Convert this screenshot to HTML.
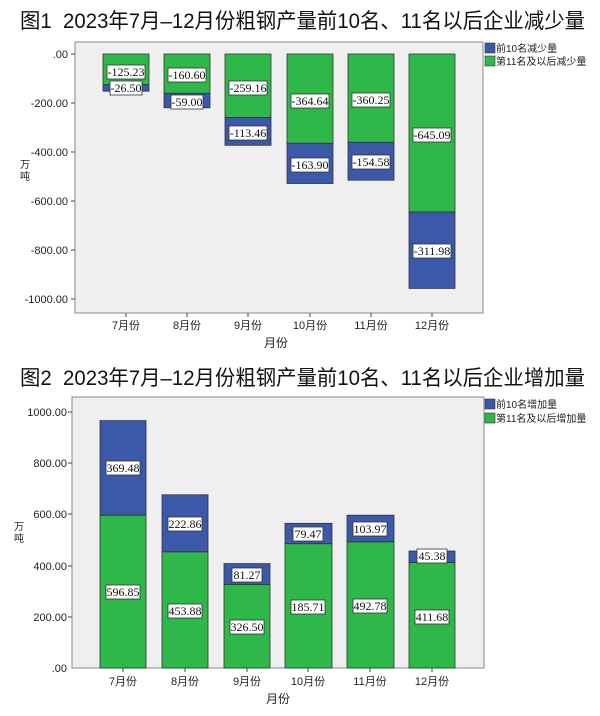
<!DOCTYPE html>
<html><head><meta charset="utf-8"><style>
body{margin:0;background:#fff}
.t{font-size:11px;fill:#222}
</style></head><body>
<svg width="600" height="711" viewBox="0 0 600 711" xmlns="http://www.w3.org/2000/svg" font-family="Liberation Sans, Noto Sans CJK SC, sans-serif">
<text x="20" y="28" font-size="21" textLength="565" lengthAdjust="spacingAndGlyphs" fill="#111">图1&#160;&#160;2023年7月–12月份粗钢产量前10名、11名以后企业减少量</text>
<text x="20" y="385" font-size="21" textLength="565" lengthAdjust="spacingAndGlyphs" fill="#111">图2&#160;&#160;2023年7月–12月份粗钢产量前10名、11名以后企业增加量</text>

<!-- Chart 1 -->
<rect x="75" y="42" width="408" height="271" fill="#efefef" stroke="#888"/>
<g class="t" text-anchor="end">
<text x="68" y="58">.00</text><text x="68" y="107">-200.00</text><text x="68" y="156">-400.00</text>
<text x="68" y="205">-600.00</text><text x="68" y="254">-800.00</text><text x="68" y="303">-1000.00</text>
</g>
<g stroke="#444"><line x1="71" y1="54" x2="75" y2="54"/><line x1="71" y1="103" x2="75" y2="103"/><line x1="71" y1="152" x2="75" y2="152"/><line x1="71" y1="201" x2="75" y2="201"/><line x1="71" y1="250" x2="75" y2="250"/><line x1="71" y1="299" x2="75" y2="299"/></g>
<text x="20" y="168" font-size="10" fill="#222">万</text><text x="20" y="180" font-size="10" fill="#222">吨</text>
<g stroke="#333" stroke-width="0.8">
<rect x="103" y="54" width="46" height="30.7" fill="#2fb84a"/><rect x="103" y="84.7" width="46" height="6.5" fill="#3c58a8"/>
<rect x="164" y="54" width="46" height="39.3" fill="#2fb84a"/><rect x="164" y="93.3" width="46" height="14.5" fill="#3c58a8"/>
<rect x="225" y="54" width="46" height="63.5" fill="#2fb84a"/><rect x="225" y="117.5" width="46" height="27.8" fill="#3c58a8"/>
<rect x="287" y="54" width="46" height="89.3" fill="#2fb84a"/><rect x="287" y="143.3" width="46" height="40.2" fill="#3c58a8"/>
<rect x="348" y="54" width="46" height="88.3" fill="#2fb84a"/><rect x="348" y="142.3" width="46" height="37.9" fill="#3c58a8"/>
<rect x="409" y="54" width="46" height="158" fill="#2fb84a"/><rect x="409" y="212" width="46" height="76.4" fill="#3c58a8"/>
</g>
<g fill="#fff" stroke="#333" stroke-width="0.8">
<rect x="107" y="65" width="38" height="14"/><rect x="110" y="81" width="32" height="14"/>
<rect x="168" y="68" width="38" height="14"/><rect x="171" y="95" width="32" height="14"/>
<rect x="229" y="81" width="38" height="14"/><rect x="229" y="126" width="38" height="14"/>
<rect x="291" y="94" width="38" height="14"/><rect x="291" y="158" width="38" height="14"/>
<rect x="352" y="93" width="38" height="14"/><rect x="352" y="155" width="38" height="14"/>
<rect x="413" y="128" width="38" height="14"/><rect x="413" y="244" width="38" height="14"/>
</g>
<g font-family="Liberation Serif, serif" font-size="12" fill="#111" text-anchor="middle">
<text x="126" y="76">-125.23</text><text x="126" y="92">-26.50</text>
<text x="187" y="79">-160.60</text><text x="187" y="106">-59.00</text>
<text x="248" y="92">-259.16</text><text x="248" y="137">-113.46</text>
<text x="310" y="105">-364.64</text><text x="310" y="169">-163.90</text>
<text x="371" y="104">-360.25</text><text x="371" y="166">-154.58</text>
<text x="432" y="139">-645.09</text><text x="432" y="255">-311.98</text>
</g>
<g stroke="#444"><line x1="126" y1="313" x2="126" y2="317"/><line x1="187" y1="313" x2="187" y2="317"/><line x1="248" y1="313" x2="248" y2="317"/><line x1="310" y1="313" x2="310" y2="317"/><line x1="371" y1="313" x2="371" y2="317"/><line x1="432" y1="313" x2="432" y2="317"/></g>
<g class="t" text-anchor="middle">
<text x="126" y="329">7月份</text><text x="187" y="329">8月份</text><text x="248" y="329">9月份</text>
<text x="310" y="329">10月份</text><text x="371" y="329">11月份</text><text x="432" y="329">12月份</text>
</g>
<text x="276" y="347" font-size="12" text-anchor="middle" fill="#222">月份</text>
<rect x="485" y="43" width="10" height="10" fill="#3c58a8" stroke="#333" stroke-width="0.6"/>
<rect x="485" y="56" width="10" height="10" fill="#2fb84a" stroke="#333" stroke-width="0.6"/>
<text x="496" y="52" font-size="10" fill="#222">前10名减少量</text>
<text x="496" y="65" font-size="10" fill="#222">第11名及以后减少量</text>

<!-- Chart 2 -->
<rect x="72" y="397" width="412" height="271" fill="#efefef" stroke="#888"/>
<g class="t" text-anchor="end">
<text x="67" y="416">1000.00</text><text x="67" y="467">800.00</text><text x="67" y="518">600.00</text>
<text x="67" y="570">400.00</text><text x="67" y="621">200.00</text><text x="67" y="672">.00</text>
</g>
<g stroke="#444"><line x1="68" y1="412" x2="72" y2="412"/><line x1="68" y1="463" x2="72" y2="463"/><line x1="68" y1="514" x2="72" y2="514"/><line x1="68" y1="566" x2="72" y2="566"/><line x1="68" y1="617" x2="72" y2="617"/></g>
<text x="14" y="530" font-size="10" fill="#222">万</text><text x="14" y="542" font-size="10" fill="#222">吨</text>
<g stroke="#333" stroke-width="0.8">
<rect x="100" y="515.2" width="46" height="152.8" fill="#2fb84a"/><rect x="100" y="420.6" width="46" height="94.6" fill="#3c58a8"/>
<rect x="162" y="551.8" width="46" height="116.2" fill="#2fb84a"/><rect x="162" y="494.8" width="46" height="57" fill="#3c58a8"/>
<rect x="224" y="584.4" width="46" height="83.6" fill="#2fb84a"/><rect x="224" y="563.6" width="46" height="20.8" fill="#3c58a8"/>
<rect x="285" y="543.7" width="47" height="124.3" fill="#2fb84a"/><rect x="285" y="523.3" width="47" height="20.4" fill="#3c58a8"/>
<rect x="347" y="541.8" width="47" height="126.2" fill="#2fb84a"/><rect x="347" y="515.2" width="47" height="26.6" fill="#3c58a8"/>
<rect x="409" y="562.6" width="46" height="105.4" fill="#2fb84a"/><rect x="409" y="551" width="46" height="11.6" fill="#3c58a8"/>
</g>
<g fill="#fff" stroke="#333" stroke-width="0.8">
<rect x="106" y="461" width="34" height="14"/><rect x="106" y="585" width="34" height="14"/>
<rect x="168" y="517" width="34" height="14"/><rect x="168" y="604" width="34" height="14"/>
<rect x="232" y="568" width="30" height="14"/><rect x="230" y="620" width="34" height="14"/>
<rect x="293" y="527" width="30" height="14"/><rect x="291" y="600" width="34" height="14"/>
<rect x="353" y="522" width="34" height="14"/><rect x="353" y="599" width="34" height="14"/>
<rect x="417" y="549" width="30" height="14"/><rect x="415" y="610" width="34" height="14"/>
</g>
<g font-family="Liberation Serif, serif" font-size="12" fill="#111" text-anchor="middle">
<text x="123" y="472">369.48</text><text x="123" y="596">596.85</text>
<text x="185" y="528">222.86</text><text x="185" y="615">453.88</text>
<text x="247" y="579">81.27</text><text x="247" y="631">326.50</text>
<text x="308" y="538">79.47</text><text x="308" y="611">185.71</text>
<text x="370" y="533">103.97</text><text x="370" y="610">492.78</text>
<text x="432" y="560">45.38</text><text x="432" y="621">411.68</text>
</g>
<g stroke="#444"><line x1="123" y1="668" x2="123" y2="672"/><line x1="185" y1="668" x2="185" y2="672"/><line x1="247" y1="668" x2="247" y2="672"/><line x1="308" y1="668" x2="308" y2="672"/><line x1="370" y1="668" x2="370" y2="672"/><line x1="432" y1="668" x2="432" y2="672"/></g>
<g class="t" text-anchor="middle">
<text x="123" y="685">7月份</text><text x="185" y="685">8月份</text><text x="247" y="685">9月份</text>
<text x="308" y="685">10月份</text><text x="370" y="685">11月份</text><text x="432" y="685">12月份</text>
</g>
<text x="278" y="703" font-size="12" text-anchor="middle" fill="#222">月份</text>
<rect x="485" y="399" width="10" height="10" fill="#3c58a8" stroke="#333" stroke-width="0.6"/>
<rect x="485" y="413" width="10" height="10" fill="#2fb84a" stroke="#333" stroke-width="0.6"/>
<text x="496" y="408" font-size="10" fill="#222">前10名增加量</text>
<text x="496" y="422" font-size="10" fill="#222">第11名及以后增加量</text>
</svg>
</body></html>
